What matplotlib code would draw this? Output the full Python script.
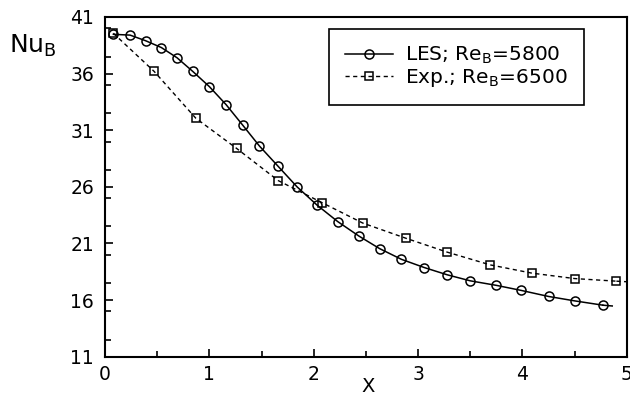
import matplotlib
matplotlib.use("Agg")
import matplotlib.pyplot as plt
from matplotlib.ticker import MultipleLocator

plt.rcParams['font.family'] = ['DejaVu Sans']
plt.rcParams['mathtext.default'] = 'regular'

les_x = [0.08, 0.24, 0.39, 0.54, 0.69, 0.84, 1.00, 1.16, 1.32, 1.48, 1.66, 1.84,
         2.03, 2.23, 2.43, 2.63, 2.84, 3.06, 3.28, 3.50, 3.75, 3.99, 4.25, 4.50, 4.77]
les_y = [39.47, 39.40, 38.90, 38.30, 37.40, 36.20, 34.85, 33.26, 31.44, 29.60, 27.80, 26.00,
         24.40, 22.93, 21.67, 20.55, 19.60, 18.87, 18.23, 17.70, 17.30, 16.85, 16.32, 15.93, 15.55]
les_end_x = [4.77, 4.86]
les_end_y = [15.55, 15.48]

exp_x = [0.08, 0.47, 0.87, 1.26, 1.66, 2.08, 2.47, 2.88, 3.28, 3.69, 4.09, 4.50, 4.90]
exp_y = [39.56, 36.20, 32.06, 29.40, 26.55, 24.60, 22.80, 21.47, 20.23, 19.11, 18.38, 17.90, 17.67]
exp_end_x = [4.90, 5.0]
exp_end_y = [17.67, 17.62]

xticks = [0, 1, 2, 3, 4, 5]
yticks = [11, 16, 21, 26, 31, 36, 41]

fig = plt.figure(figsize=(6.3, 3.97), dpi=100)
ax = fig.add_axes([0.1667, 0.1015, 0.8283, 0.8557])

ax.plot(les_x, les_y, '-', color='black', lw=1.1, marker='o', ms=6.5,
        mfc='none', mec='black', mew=1.1, label='LES; Re$_B$=5800')
ax.plot(les_end_x, les_end_y, '-', color='black', lw=1.1)
ax.plot(exp_x, exp_y, linestyle=(0, (3, 2.5)), color='black', lw=1.0, marker='s', ms=6,
        mfc='none', mec='black', mew=1.1, label='Exp.; Re$_B$=6500')
ax.plot(exp_end_x, exp_end_y, linestyle=(0, (3, 2.5)), color='black', lw=1.0)

ax.set_xlim(0, 5)
ax.set_ylim(11, 41)
ax.set_xticks(xticks)
ax.set_yticks(yticks)
ax.xaxis.set_minor_locator(MultipleLocator(0.5))
ax.yaxis.set_minor_locator(MultipleLocator(2.5))
ax.tick_params(which='both', direction='in', labelsize=13.5, width=1.2)
ax.tick_params(which='major', length=6)
ax.tick_params(which='minor', length=4)
ax.tick_params(axis='x', pad=6)
ax.tick_params(axis='y', pad=8)
for s in ax.spines.values():
    s.set_linewidth(1.5)

fig.text(368 / 630, 1 - 386 / 397, 'X', fontsize=14, ha='center', va='center')
fig.text(0.015, 0.885, 'Nu$_B$', fontsize=18, ha='left', va='center')

leg = ax.legend(loc='upper left', bbox_to_anchor=(0.429, 0.965), borderaxespad=0,
                fontsize=14.5, frameon=True, fancybox=False, edgecolor='black',
                framealpha=1, handlelength=2.4, borderpad=0.8, labelspacing=0.05,
                handletextpad=0.6)
leg.get_frame().set_linewidth(1.2)

fig.savefig('out.png', dpi=100)
